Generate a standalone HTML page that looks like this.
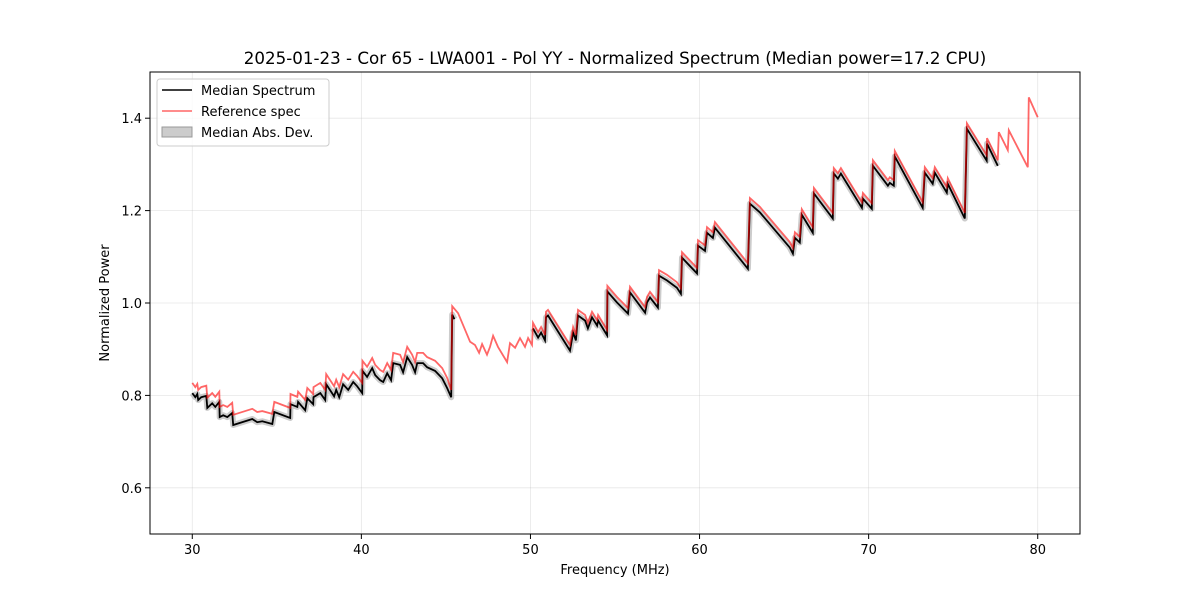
<!DOCTYPE html>
<html><head><meta charset="utf-8"><style>
body{margin:0;background:#fff;font-family:"Liberation Sans","DejaVu Sans",sans-serif}
svg text{font-family:"DejaVu Sans","Liberation Sans",sans-serif}
</style></head><body>
<svg id="chart" width="1200" height="600" viewBox="0 0 1200 600" xmlns="http://www.w3.org/2000/svg">
<rect width="1200" height="600" fill="#fff"/>
<text x="615" y="64" font-size="16.7" text-anchor="middle">2025-01-23 - Cor 65 - LWA001 - Pol YY - Normalized Spectrum (Median power=17.2 CPU)</text>
<g id="grid"></g>
<g id="marks"></g>
<rect x="150" y="72" width="930" height="462" fill="none" stroke="#000" stroke-width="1"/>
<g id="ticks"></g>
<text x="615" y="574" font-size="13" text-anchor="middle">Frequency (MHz)</text>
<text transform="translate(109,303) rotate(-90)" font-size="13" text-anchor="middle">Normalized Power</text>
<g>
<rect x="157" y="79" width="172" height="67" rx="3" fill="#fff" fill-opacity="0.8" stroke="#ccc"/>
<line x1="162" y1="90" x2="192" y2="90" stroke="#000" stroke-width="1.5"/>
<text x="201" y="95" font-size="13">Median Spectrum</text>
<line x1="162" y1="111" x2="192" y2="111" stroke="#ff0000" stroke-opacity="0.6" stroke-width="1.5"/>
<text x="201" y="116" font-size="13">Reference spec</text>
<rect x="162" y="127" width="30" height="10" fill="#999" fill-opacity="0.5" stroke="#999"/>
<text x="201" y="137" font-size="13">Median Abs. Dev.</text>
</g>
</svg>
<script>
const xTicks=[30,40,50,60,70,80];
const yTicks=[0.6,0.8,1.0,1.2,1.4];
const refFreq=[30.00,30.18,30.30,30.35,30.53,30.83,30.89,31.18,31.36,31.60,31.62,31.83,32.07,32.36,32.42,33.55,33.84,34.14,34.73,34.85,35.79,35.81,36.21,36.26,36.68,36.80,37.15,37.17,37.57,37.86,37.92,38.39,38.51,38.69,38.92,39.22,39.52,39.75,40.05,40.07,40.34,40.64,40.82,41.11,41.29,41.53,41.76,41.88,42.29,42.47,42.71,43.00,43.18,43.30,43.65,43.89,44.36,44.78,45.07,45.31,45.37,45.72,46.43,46.72,46.96,47.14,47.43,47.61,47.79,48.08,48.62,48.79,49.09,49.38,49.68,49.86,50.09,50.15,50.45,50.63,50.86,50.92,51.04,52.34,52.52,52.69,52.81,53.23,53.40,53.64,53.94,54.00,54.53,54.55,55.12,55.77,55.89,56.78,56.89,57.07,57.54,57.60,58.07,58.66,58.90,58.96,59.85,59.91,60.32,60.44,60.79,60.91,62.86,62.98,63.57,65.34,65.52,65.64,65.93,66.05,66.70,66.76,67.88,67.94,68.18,68.36,69.60,69.66,70.19,70.25,71.14,71.25,71.49,71.55,73.20,73.32,73.79,73.91,74.62,74.68,75.69,75.81,76.98,77.00,77.64,77.70,78.23,78.29,79.41,79.47,80.00];
const refVal=[.827,.818,.825,.812,.818,.821,.795,.805,.797,.808,.775,.779,.775,.784,.758,.771,.764,.766,.760,.786,.773,.803,.797,.808,.790,.816,.803,.818,.827,.812,.846,.820,.834,.818,.846,.834,.851,.842,.827,.875,.862,.881,.866,.855,.851,.870,.855,.892,.888,.872,.905,.888,.872,.892,.892,.883,.875,.859,.838,.812,.993,.978,.916,.909,.892,.911,.888,.905,.929,.905,.872,.913,.903,.924,.905,.924,.909,.957,.937,.948,.931,.981,.985,.909,.948,.931,.985,.974,.957,.981,.963,.974,.942,1.037,1.013,.989,1.035,.991,1.013,1.024,1.002,1.071,1.061,1.045,1.032,1.110,1.076,1.136,1.125,1.164,1.153,1.175,1.086,1.227,1.208,1.132,1.119,1.153,1.143,1.203,1.164,1.249,1.195,1.292,1.281,1.292,1.218,1.238,1.216,1.309,1.266,1.272,1.266,1.329,1.218,1.294,1.270,1.294,1.251,1.270,1.195,1.389,1.320,1.357,1.309,1.370,1.331,1.374,1.294,1.445,1.402];
const medFreqA=[30.00,30.18,30.30,30.35,30.53,30.83,30.89,31.18,31.36,31.60,31.62,31.83,32.07,32.36,32.42,33.55,33.84,34.14,34.73,34.85,35.79,35.81,36.21,36.26,36.68,36.80,37.15,37.17,37.57,37.86,37.92,38.39,38.51,38.69,38.92,39.22,39.52,39.75,40.05,40.07,40.34,40.64,40.82,41.11,41.29,41.53,41.76,41.88,42.29,42.47,42.71,43.00,43.18,43.30,43.65,43.89,44.36,44.78,45.07,45.31,45.37,45.50];
const medValA=[.805,.796,.803,.790,.796,.799,.773,.783,.775,.786,.753,.757,.753,.762,.736,.749,.742,.744,.738,.764,.751,.781,.775,.786,.768,.794,.781,.796,.805,.790,.824,.798,.812,.796,.824,.812,.829,.820,.805,.853,.840,.859,.844,.833,.829,.848,.833,.870,.866,.850,.883,.866,.850,.870,.870,.861,.853,.837,.816,.796,.975,.965];
const medFreqB=[50.15,50.45,50.63,50.86,50.92,51.04,52.34,52.52,52.69,52.81,53.23,53.40,53.64,53.94,54.00,54.53,54.55,55.12,55.77,55.89,56.78,56.89,57.07,57.54,57.60,58.07,58.66,58.90,58.96,59.85,59.91,60.32,60.44,60.79,60.91,62.86,62.98,63.57,65.34,65.52,65.64,65.93,66.05,66.70,66.76,67.88,67.94,68.18,68.36,69.60,69.66,70.19,70.25,71.14,71.25,71.49,71.55,73.20,73.32,73.79,73.91,74.62,74.68,75.69,75.81,76.98,77.00,77.64];
const medValB=[.945,.925,.936,.919,.969,.973,.897,.936,.919,.973,.962,.945,.969,.951,.962,.930,1.025,1.001,.977,1.023,.979,1.001,1.012,.990,1.059,1.049,1.033,1.020,1.098,1.064,1.124,1.113,1.152,1.141,1.163,1.074,1.215,1.196,1.120,1.107,1.141,1.131,1.191,1.152,1.237,1.183,1.280,1.269,1.280,1.206,1.226,1.204,1.297,1.254,1.260,1.254,1.317,1.206,1.282,1.258,1.282,1.239,1.258,1.183,1.377,1.308,1.345,1.297];

const NS="http://www.w3.org/2000/svg";
const X0=150,X1=1080,Y0=72,Y1=534,xmin=27.5,xmax=82.5,ymin=0.5,ymax=1.5;
const xs=f=>X0+(f-xmin)/(xmax-xmin)*(X1-X0);
const ys=v=>Y1-(v-ymin)/(ymax-ymin)*(Y1-Y0);
const grid=document.getElementById('grid'),ticks=document.getElementById('ticks'),marks=document.getElementById('marks');
function mk(tag,attrs,parent){const e=document.createElementNS(NS,tag);for(const k in attrs)e.setAttribute(k,attrs[k]);parent.appendChild(e);return e;}
xTicks.forEach(t=>{const x=xs(t);
 const g=mk('line',{x1:x,x2:x,y1:Y0,y2:Y1,stroke:'#b0b0b0','stroke-opacity':0.3,'stroke-width':0.8},grid);
 
 
 const tk=mk('line',{x1:x,x2:x,y1:Y1,y2:Y1+5,stroke:'#000'},ticks);
 
 
 const tx=mk('text',{x:x,y:Y1+20,'font-size':13,'text-anchor':'middle'},ticks);tx.textContent=t;
 
 });
yTicks.forEach(t=>{const y=ys(t);
 const g=mk('line',{x1:X0,x2:X1,y1:y,y2:y,stroke:'#b0b0b0','stroke-opacity':0.3,'stroke-width':0.8},grid);
 
 
 const tk=mk('line',{x1:X0-5,x2:X0,y1:y,y2:y,stroke:'#000'},ticks);
 
 
 const tx=mk('text',{x:X0-8,y:y+5,'font-size':13,'text-anchor':'end'},ticks);tx.textContent=t.toFixed(1);
 
 });
const pts=(F,V)=>F.map((f,i)=>xs(f).toFixed(1)+','+ys(V[i]).toFixed(1)).join(' ');
[[medFreqA,medValA],[medFreqB,medValB]].forEach(([F,V])=>{
 const b=mk('polyline',{points:pts(F,V),fill:'none',stroke:'#aaa','stroke-opacity':0.6,'stroke-width':6,'stroke-linejoin':'round'},marks);
 
 });
[[medFreqA,medValA],[medFreqB,medValB]].forEach(([F,V])=>{
 const l=mk('polyline',{points:pts(F,V),fill:'none',stroke:'#000','stroke-width':1.8},marks);
 
 });
const r=mk('polyline',{points:pts(refFreq,refVal),fill:'none',stroke:'#ff0000','stroke-opacity':0.6,'stroke-width':1.8},marks);


</script>
</body></html>
